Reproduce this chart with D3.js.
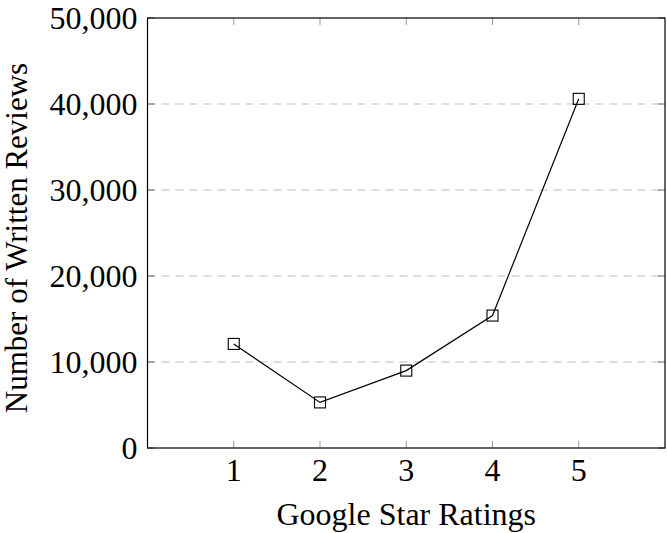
<!DOCTYPE html>
<html><head><meta charset="utf-8">
<script src="https://cdn.jsdelivr.net/npm/d3@7"></script>
<style>body{margin:0;background:#fff}svg{display:block}text{font-family:"Liberation Serif","Times New Roman",serif;fill:#000}</style>
</head><body>
<script>
const ratings = [1, 2, 3, 4, 5];
const reviews = [12100, 5300, 9000, 15400, 40600];
const yTicks = [0, 10000, 20000, 30000, 40000, 50000];
const xLabel = "Google Star Ratings";
const yLabel = "Number of Written Reviews";

const W = 667, H = 533;
const m = {left: 147.5, right: 2, top: 18, bottom: 85};
const svg = d3.select("body").append("svg").attr("width", W).attr("height", H);
const x = d3.scaleLinear().domain([0, 6]).range([m.left, W - m.right]);
const y = d3.scaleLinear().domain([0, 50000]).range([H - m.bottom, m.top]);
const fs = 32;

// grid
svg.append("g").selectAll("line").data(yTicks.filter(t => t > 0 && t < 50000)).join("line")
  .attr("x1", x(0)).attr("x2", x(6)).attr("y1", d => y(d)).attr("y2", d => y(d))
  .attr("stroke", "#bdbdbd").attr("stroke-width", 1).attr("stroke-dasharray", "8,6");

// inner ticks
const tickCol = "#999";
svg.append("g").selectAll("line").data(ratings).join("line")
  .attr("x1", d => x(d)).attr("x2", d => x(d)).attr("y1", y(0)).attr("y2", y(0) - 7)
  .attr("stroke", tickCol);
svg.append("g").selectAll("line").data(ratings).join("line")
  .attr("x1", d => x(d)).attr("x2", d => x(d)).attr("y1", y(50000)).attr("y2", y(50000) + 7)
  .attr("stroke", tickCol);
svg.append("g").selectAll("line").data(yTicks).join("line")
  .attr("x1", x(0)).attr("x2", x(0) + 7).attr("y1", d => y(d)).attr("y2", d => y(d))
  .attr("stroke", "#666");
svg.append("g").selectAll("line").data(yTicks).join("line")
  .attr("x1", x(6)).attr("x2", x(6) - 7).attr("y1", d => y(d)).attr("y2", d => y(d))
  .attr("stroke", "#666");

// frame
svg.append("rect").attr("x", x(0)).attr("y", y(50000)).attr("width", x(6) - x(0)).attr("height", y(0) - y(50000))
  .attr("fill", "none").attr("stroke", "#000").attr("stroke-width", 1.2);

// tick labels
const fmt = d3.format(",");
svg.append("g").selectAll("text").data(yTicks).join("text")
  .attr("x", x(0) - 10).attr("y", d => y(d) + 10.5).attr("text-anchor", "end")
  .attr("font-size", fs).text(d => fmt(d));
svg.append("g").selectAll("text").data(ratings).join("text")
  .attr("x", d => x(d)).attr("y", y(0) + 33).attr("text-anchor", "middle")
  .attr("font-size", fs).text(d => d);

// axis labels
svg.append("text").attr("x", (x(0) + x(6)) / 2).attr("y", 525).attr("text-anchor", "middle")
  .attr("font-size", fs).text(xLabel);
svg.append("text").attr("transform", `translate(${27},${238}) rotate(-90)`)
  .attr("text-anchor", "middle").attr("font-size", 31).text(yLabel);

// line
const data = ratings.map((r, i) => ({r, v: reviews[i]}));
svg.append("path").datum(data).attr("fill", "none").attr("stroke", "#000").attr("stroke-width", 1.2)
  .attr("d", d3.line().x(d => x(d.r)).y(d => y(d.v)));
const s = 11;
svg.append("g").selectAll("rect").data(data).join("rect")
  .attr("x", d => x(d.r) - s / 2).attr("y", d => y(d.v) - s / 2).attr("width", s).attr("height", s)
  .attr("fill", "none").attr("stroke", "#000").attr("stroke-width", 1.1);
</script>
</body></html>
